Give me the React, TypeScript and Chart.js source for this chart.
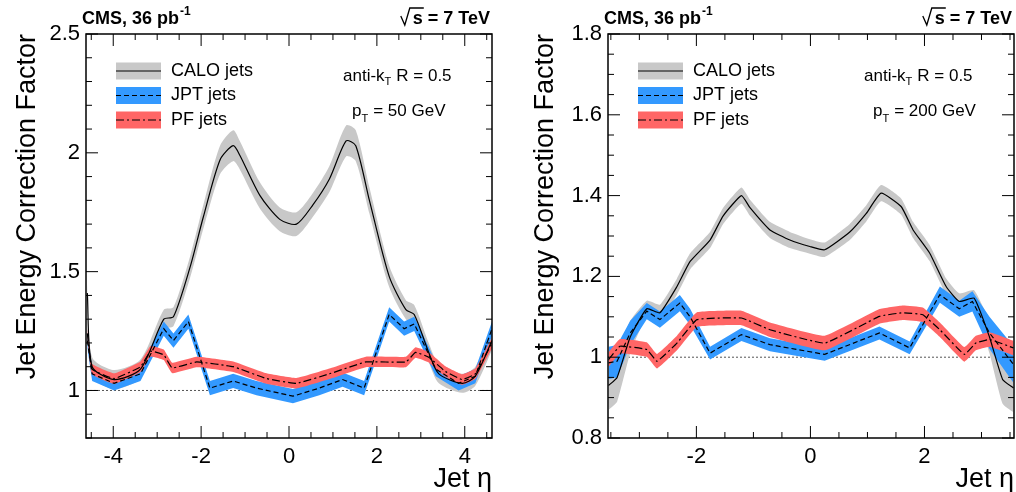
import React, { useEffect, useRef } from 'react';
import { Chart, registerables } from 'chart.js';

Chart.register(...registerables);

// left panel, pT = 50 GeV
const lCaloEta = [-4.59, -4.48, -3.98, -3.38, -2.85, -2.63, -2.25, -1.95, -1.57, -1.27, -1.12, -0.66, -0.21, 0.17, 0.54, 0.92, 1.30, 1.52, 1.83, 2.28, 2.66, 2.85, 3.18, 3.41, 3.94, 4.24, 4.62];
const lCaloVal = [1.41, 1.10, 1.046, 1.09, 1.30, 1.31, 1.52, 1.73, 1.97, 2.03, 1.99, 1.82, 1.72, 1.70, 1.78, 1.89, 2.05, 2.03, 1.80, 1.48, 1.34, 1.32, 1.16, 1.07, 1.03, 1.06, 1.21];
const lCaloErr = [0.04, 0.04, 0.04, 0.04, 0.04, 0.04, 0.045, 0.05, 0.06, 0.065, 0.06, 0.055, 0.05, 0.05, 0.05, 0.055, 0.065, 0.065, 0.055, 0.045, 0.04, 0.04, 0.04, 0.04, 0.04, 0.04, 0.04];
const lJptEta = [-4.59, -4.48, -3.98, -3.38, -2.85, -2.63, -2.29, -1.80, -1.27, -0.74, 0.09, 0.69, 1.22, 1.71, 2.28, 2.62, 2.85, 3.34, 3.86, 4.24, 4.62];
const lJptVal = [1.21, 1.07, 1.03, 1.07, 1.26, 1.21, 1.29, 1.01, 1.04, 1.01, 0.976, 1.01, 1.046, 1.01, 1.32, 1.26, 1.28, 1.09, 1.03, 1.06, 1.26];
const lJptErr = 0.03;
const lPfEta = [-4.59, -4.48, -3.98, -3.38, -3.15, -2.85, -2.66, -2.10, -1.27, -0.51, 0.17, 0.92, 1.75, 2.66, 2.88, 3.18, 3.56, 3.94, 4.24, 4.62];
const lPfVal = [1.24, 1.09, 1.05, 1.10, 1.165, 1.15, 1.095, 1.12, 1.10, 1.05, 1.03, 1.07, 1.12, 1.12, 1.16, 1.14, 1.08, 1.046, 1.07, 1.20];
const lPfErr = 0.022;

// right panel, pT = 200 GeV
const rCaloEta = [-3.54, -3.39, -3.16, -2.87, -2.64, -2.34, -2.11, -1.76, -1.53, -1.21, -1.06, -0.71, -0.36, -0.01, 0.25, 0.69, 0.98, 1.24, 1.59, 1.80, 2.09, 2.38, 2.61, 2.87, 3.14, 3.37, 3.56];
const rCaloVal = [0.93, 0.95, 1.05, 1.12, 1.11, 1.175, 1.237, 1.29, 1.35, 1.40, 1.37, 1.315, 1.29, 1.274, 1.266, 1.31, 1.356, 1.406, 1.373, 1.315, 1.258, 1.175, 1.138, 1.146, 1.05, 0.945, 0.924];
const rCaloErr = [0.06, 0.06, 0.04, 0.02, 0.02, 0.02, 0.02, 0.02, 0.02, 0.02, 0.02, 0.02, 0.02, 0.018, 0.018, 0.02, 0.02, 0.02, 0.02, 0.02, 0.02, 0.02, 0.02, 0.02, 0.04, 0.06, 0.06];
const rJptEta = [-3.54, -3.39, -3.16, -2.87, -2.64, -2.29, -2.11, -1.76, -1.21, -0.71, 0.25, 1.21, 1.74, 2.27, 2.61, 2.84, 3.14, 3.56];
const rJptVal = [0.986, 0.99, 1.06, 1.114, 1.093, 1.134, 1.10, 1.01, 1.056, 1.031, 1.007, 1.06, 1.023, 1.155, 1.12, 1.138, 1.06, 0.982];
const rJptErr = [0.04, 0.04, 0.03, 0.02, 0.02, 0.02, 0.02, 0.016, 0.016, 0.016, 0.016, 0.016, 0.016, 0.02, 0.02, 0.025, 0.04, 0.045];
const rPfEta = [-3.54, -3.34, -2.87, -2.69, -2.34, -1.99, -1.21, -0.71, 0.25, 1.21, 1.62, 1.97, 2.27, 2.70, 2.90, 3.14, 3.56];
const rPfVal = [0.994, 1.027, 1.019, 0.99, 1.035, 1.093, 1.097, 1.068, 1.035, 1.101, 1.11, 1.105, 1.068, 1.007, 1.035, 1.044, 1.023];
const rPfErr = 0.018;

const GRAY = '#c8c8c8';
const BLUE = '#3399ff';
const RED = '#ff6666';
const FONT = '"Liberation Sans", Arial, sans-serif';

type Panel = {
  xMin: number; xMax: number; yMin: number; yMax: number;
  xMajor: number; xMinor: number; yMajor: number; yMinor: number;
  pad: { left: number; right: number; top: number; bottom: number };
  ptText: string;
  legendX: number; infoX: number;
  series: { eta: number[]; val: number[]; err: number[] | number; color: string; dash: number[]; tension: number }[];
};

function pts(eta: number[], val: number[], err: number[] | number, sign: number) {
  return eta.map((x, i) => ({ x, y: val[i] + sign * (Array.isArray(err) ? err[i] : err) }));
}

function PanelChart({ p, left }: { p: Panel; left: number }) {
  const ref = useRef<HTMLCanvasElement>(null);

  useEffect(() => {
    if (!ref.current) return;
    const datasets: any[] = [];
    const bandOrder = [30, 20, 10];
    p.series.forEach((s, k) => {
      datasets.push({ data: pts(s.eta, s.val, s.err, 1), borderWidth: 0, pointRadius: 0, fill: '+1', backgroundColor: s.color, tension: s.tension, order: bandOrder[k] });
      datasets.push({ data: pts(s.eta, s.val, s.err, -1), borderWidth: 0, pointRadius: 0, fill: false, tension: s.tension, order: bandOrder[k] });
    });
    p.series.forEach((s, k) => {
      datasets.push({ data: pts(s.eta, s.val, 0, 0), borderColor: '#000', borderWidth: 1.2, borderDash: s.dash, pointRadius: 0, fill: false, tension: s.tension, order: 3 - k });
    });
    datasets.push({ data: [{ x: p.xMin, y: 1 }, { x: p.xMax, y: 1 }], borderColor: '#555', borderWidth: 1, borderDash: [2, 2], pointRadius: 0, fill: false, order: 40 });

    const deco = {
      id: 'deco',
      afterDraw(chart: any) {
        const ctx = chart.ctx;
        const a = chart.chartArea;
        const xs = chart.scales.x, ys = chart.scales.y;
        ctx.save();
        ctx.strokeStyle = '#000';
        ctx.lineWidth = 1.5;
        ctx.strokeRect(a.left, a.top, a.right - a.left, a.bottom - a.top);
        ctx.lineWidth = 1;
        const eps = 1e-6;
        // x ticks
        for (let v = Math.ceil(p.xMin / p.xMinor) * p.xMinor; v <= p.xMax + eps; v += p.xMinor) {
          const major = Math.abs(v / p.xMajor - Math.round(v / p.xMajor)) < 1e-4;
          const L = major ? 12 : 6;
          const px = xs.getPixelForValue(v);
          ctx.beginPath();
          ctx.moveTo(px, a.bottom); ctx.lineTo(px, a.bottom - L);
          ctx.moveTo(px, a.top); ctx.lineTo(px, a.top + L);
          ctx.stroke();
          if (major) {
            ctx.fillStyle = '#000';
            ctx.font = `22px ${FONT}`;
            ctx.textAlign = 'center';
            ctx.textBaseline = 'top';
            const r = Math.round(v);
            ctx.fillText(r < 0 ? '-' + Math.abs(r) : String(r), px, a.bottom + 8);
          }
        }
        // y ticks
        for (let v = Math.ceil(p.yMin / p.yMinor - eps) * p.yMinor; v <= p.yMax + eps; v += p.yMinor) {
          const major = Math.abs(v / p.yMajor - Math.round(v / p.yMajor)) < 1e-4;
          const L = major ? 12 : 6;
          const py = ys.getPixelForValue(v);
          ctx.beginPath();
          ctx.moveTo(a.left, py); ctx.lineTo(a.left + L, py);
          ctx.moveTo(a.right, py); ctx.lineTo(a.right - L, py);
          ctx.stroke();
          if (major) {
            ctx.fillStyle = '#000';
            ctx.font = `22px ${FONT}`;
            ctx.textAlign = 'right';
            ctx.textBaseline = 'middle';
            const r = Math.round(v / p.yMajor) * p.yMajor;
            const t = Math.abs(r - Math.round(r)) < 1e-6 ? String(Math.round(r)) : r.toFixed(1);
            ctx.fillText(t, a.left - 6, py);
          }
        }
        // axis titles
        ctx.fillStyle = '#000';
        ctx.font = `27px ${FONT}`;
        ctx.save();
        ctx.translate(a.left - (p.yMajor < 0.5 ? 62 : 58), a.top);
        ctx.rotate(-Math.PI / 2);
        ctx.textAlign = 'right';
        ctx.textBaseline = 'middle';
        ctx.fillText('Jet Energy Correction Factor', 0, 0);
        ctx.restore();
        ctx.textAlign = 'right';
        ctx.textBaseline = 'alphabetic';
        ctx.fillText('Jet \u03b7', a.right, 487);
        // header
        ctx.font = `bold 18px ${FONT}`;
        ctx.textAlign = 'left';
        ctx.fillText('CMS, 36 pb', a.left - 4, 24);
        const w = ctx.measureText('CMS, 36 pb').width;
        ctx.font = `bold 12px ${FONT}`;
        ctx.fillText('-1', a.left - 4 + w + 1, 15);
        ctx.font = `bold 18px ${FONT}`;
        ctx.textAlign = 'right';
        ctx.fillText('s = 7 TeV', a.right - 2, 24);
        const sw = ctx.measureText('s = 7 TeV').width;
        const rx = a.right - 2 - sw;
        ctx.lineWidth = 1.3;
        ctx.beginPath();
        ctx.moveTo(rx - 12, 16); ctx.lineTo(rx - 8, 25); ctx.lineTo(rx - 3, 8); ctx.lineTo(rx + 11, 8);
        ctx.stroke();
        // legend
        const names = ['CALO jets', 'JPT jets', 'PF jets'];
        const lx = p.legendX;
        p.series.forEach((s, k) => {
          const cy = 71 + k * 24.5;
          ctx.fillStyle = s.color;
          ctx.fillRect(lx, cy - 8.5, 45, 17);
          ctx.strokeStyle = '#000';
          ctx.lineWidth = 1.2;
          ctx.setLineDash(s.dash);
          ctx.beginPath();
          ctx.moveTo(lx, cy); ctx.lineTo(lx + 45, cy);
          ctx.stroke();
          ctx.setLineDash([]);
          ctx.fillStyle = '#000';
          ctx.font = `18px ${FONT}`;
          ctx.textAlign = 'left';
          ctx.textBaseline = 'middle';
          ctx.fillText(names[k], lx + 55, cy);
        });
        // info text
        ctx.textBaseline = 'alphabetic';
        ctx.font = `17px ${FONT}`;
        ctx.textAlign = 'left';
        let x0 = p.infoX;
        ctx.fillText('anti-k', x0, 81);
        x0 += ctx.measureText('anti-k').width;
        ctx.font = `11px ${FONT}`;
        ctx.fillText('T', x0, 85);
        x0 += ctx.measureText('T').width + 5;
        ctx.font = `17px ${FONT}`;
        ctx.fillText('R = 0.5', x0, 81);
        let x1 = p.infoX + 9;
        ctx.fillText('p', x1, 116);
        x1 += ctx.measureText('p').width;
        ctx.font = `11px ${FONT}`;
        ctx.fillText('T', x1, 122);
        x1 += ctx.measureText('T').width + 5;
        ctx.font = `17px ${FONT}`;
        ctx.fillText(p.ptText, x1, 116);
        ctx.restore();
      },
    };

    const chart = new Chart(ref.current, {
      type: 'line',
      data: { datasets },
      options: {
        animation: false,
        responsive: false,
        layout: { padding: p.pad },
        plugins: { legend: { display: false }, tooltip: { enabled: false }, filler: { propagate: false } },
        scales: {
          x: { type: 'linear', min: p.xMin, max: p.xMax, display: false },
          y: { type: 'linear', min: p.yMin, max: p.yMax, display: false },
        },
      },
      plugins: [deco],
    });
    return () => chart.destroy();
  }, [p]);

  return <canvas ref={ref} width={508} height={492} style={{ position: 'absolute', left, top: 0 }} />;
}

const leftPanel: Panel = {
  xMin: -4.62, xMax: 4.62, yMin: 0.8, yMax: 2.5, xMajor: 2, xMinor: 0.5, yMajor: 0.5, yMinor: 0.1,
  pad: { left: 86, right: 16, top: 34, bottom: 54 },
  ptText: '= 50 GeV', legendX: 116, infoX: 343,
  series: [
    { eta: lCaloEta, val: lCaloVal, err: lCaloErr, color: GRAY, dash: [], tension: 0.25 },
    { eta: lJptEta, val: lJptVal, err: lJptErr, color: BLUE, dash: [5, 3], tension: 0 },
    { eta: lPfEta, val: lPfVal, err: lPfErr, color: RED, dash: [8, 3, 2, 3], tension: 0.1 },
  ],
};

const rightPanel: Panel = {
  xMin: -3.55, xMax: 3.57, yMin: 0.8, yMax: 1.8, xMajor: 2, xMinor: 0.5, yMajor: 0.2, yMinor: 0.05,
  pad: { left: 100, right: 2, top: 34, bottom: 54 },
  ptText: '= 200 GeV', legendX: 130, infoX: 356,
  series: [
    { eta: rCaloEta, val: rCaloVal, err: rCaloErr, color: GRAY, dash: [], tension: 0.15 },
    { eta: rJptEta, val: rJptVal, err: rJptErr, color: BLUE, dash: [5, 3], tension: 0 },
    { eta: rPfEta, val: rPfVal, err: rPfErr, color: RED, dash: [8, 3, 2, 3], tension: 0.1 },
  ],
};

export default function App() {
  return (
    <div style={{ position: 'absolute', left: 0, top: 0, width: 1016, height: 492, background: '#fff' }}>
      <PanelChart p={leftPanel} left={0} />
      <PanelChart p={rightPanel} left={508} />
    </div>
  );
}
